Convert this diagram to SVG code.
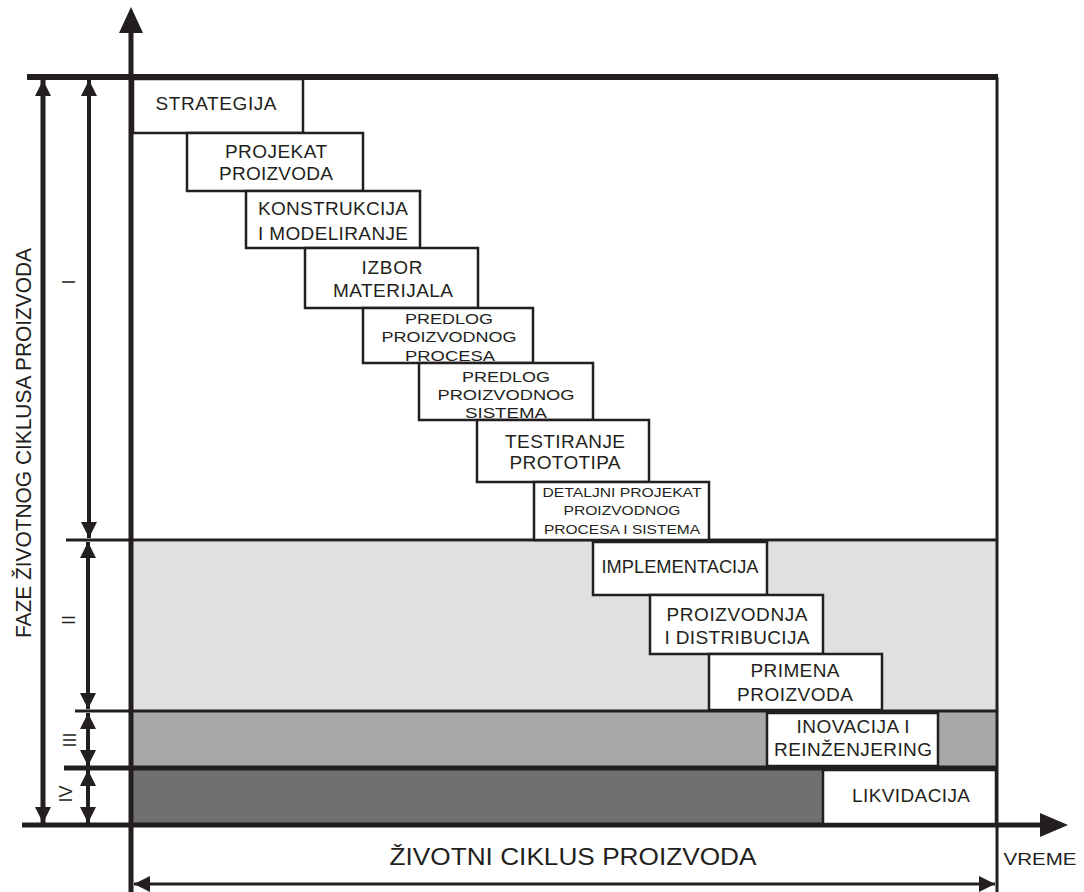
<svg xmlns="http://www.w3.org/2000/svg" width="1084" height="892" viewBox="0 0 1084 892">
<style>
.ln{stroke:#231f20;fill:none}
.bx{fill:#fff;stroke:#231f20;stroke-width:2.5}
.t{font-family:"Liberation Sans",Arial,sans-serif;fill:#231f20;text-anchor:middle}
.f19{font-size:19px}
.f18{font-size:18px}
.f15{font-size:15px}
.f13{font-size:13px}
</style>
<defs>
<marker id="ah" viewBox="0 0 16 16" refX="16" refY="8" markerWidth="16" markerHeight="16" markerUnits="userSpaceOnUse" orient="auto-start-reverse">
<path d="M0,0 L16,8 L0,16 Z" fill="#231f20"/>
</marker>
</defs>
<rect width="1084" height="892" fill="#fff"/>
<g id="bands">
<rect x="133" y="542" width="863" height="168" fill="#e0e0e0"/>
<rect x="133" y="712" width="863" height="55" fill="#a8a8a8"/>
<rect x="133" y="769" width="863" height="55" fill="#707070"/>
</g>
<g id="connectors">
<line class="ln" x1="27" y1="77" x2="998" y2="77" stroke-width="6"/>
<line class="ln" x1="66" y1="540" x2="997" y2="540" stroke-width="3"/>
<line class="ln" x1="75" y1="711" x2="997" y2="711" stroke-width="3"/>
<line class="ln" x1="64" y1="768" x2="997" y2="768" stroke-width="5"/>
<line class="ln" x1="997" y1="77" x2="997" y2="892" stroke-width="3"/>
<line class="ln" x1="22" y1="825" x2="1042" y2="825" stroke-width="5"/>
<polygon points="1068,825 1040,813 1040,837" fill="#231f20"/>
<line class="ln" x1="131" y1="892" x2="131" y2="30" stroke-width="5"/>
<polygon points="131,7 119,33 143,33" fill="#231f20"/>
<line class="ln" x1="43" y1="80" x2="43" y2="823" stroke-width="5" marker-start="url(#ah)" marker-end="url(#ah)"/>
<line class="ln" x1="89" y1="80" x2="89" y2="538" stroke-width="4" marker-start="url(#ah)" marker-end="url(#ah)"/>
<line class="ln" x1="88" y1="542" x2="88" y2="709" stroke-width="4" marker-start="url(#ah)" marker-end="url(#ah)"/>
<line class="ln" x1="88" y1="713" x2="88" y2="766" stroke-width="4" marker-start="url(#ah)" marker-end="url(#ah)"/>
<line class="ln" x1="88" y1="770" x2="88" y2="823" stroke-width="4" marker-start="url(#ah)" marker-end="url(#ah)"/>
<line class="ln" x1="134" y1="884" x2="995" y2="884" stroke-width="3" marker-start="url(#ah)" marker-end="url(#ah)"/>
</g>
<g id="axis-labels">
<text class="t" transform="translate(31,443) rotate(-90)" font-size="22" textLength="390" lengthAdjust="spacingAndGlyphs">FAZE ŽIVOTNOG CIKLUSA PROIZVODA</text>
<text class="t f18" transform="translate(75,282) rotate(-90)">I</text>
<text class="t f18" transform="translate(75,620) rotate(-90)">II</text>
<text class="t f18" transform="translate(76,740) rotate(-90)">III</text>
<text class="t f18" transform="translate(72,794) rotate(-90)">IV</text>
<text class="t" x="573" y="865" font-size="24" textLength="367" lengthAdjust="spacingAndGlyphs">ŽIVOTNI CIKLUS PROIZVODA</text>
<text class="t" x="1040" y="865" font-size="16" textLength="73" lengthAdjust="spacingAndGlyphs">VREME</text>
</g>
<g id="n1"><rect class="bx" x="133" y="79" width="170" height="54"/><text class="t f19" x="216" y="110" textLength="121">STRATEGIJA</text></g>
<g id="n2"><rect class="bx" x="187" y="133" width="176" height="58"/><text class="t f19" x="276" y="158" textLength="102">PROJEKAT</text><text class="t f19" x="276" y="180" textLength="114">PROIZVODA</text></g>
<g id="n3"><rect class="bx" x="246" y="191" width="174" height="57"/><text class="t f19" x="333" y="215" textLength="150">KONSTRUKCIJA</text><text class="t f19" x="333" y="240" textLength="150">I MODELIRANJE</text></g>
<g id="n4"><rect class="bx" x="305" y="248" width="173" height="60"/><text class="t f19" x="392" y="274" textLength="61">IZBOR</text><text class="t f19" x="393" y="297" textLength="120">MATERIJALA</text></g>
<g id="n5"><rect class="bx" x="363" y="308" width="170" height="55"/><text class="t f15" x="449" y="324" textLength="88" lengthAdjust="spacingAndGlyphs">PREDLOG</text><text class="t f15" x="449" y="342" textLength="135" lengthAdjust="spacingAndGlyphs">PROIZVODNOG</text><text class="t f15" x="450" y="361" textLength="90" lengthAdjust="spacingAndGlyphs">PROCESA</text></g>
<g id="n6"><rect class="bx" x="419" y="363" width="174" height="57"/><text class="t f15" x="506" y="382" textLength="88" lengthAdjust="spacingAndGlyphs">PREDLOG</text><text class="t f15" x="506" y="400" textLength="137" lengthAdjust="spacingAndGlyphs">PROIZVODNOG</text><text class="t f15" x="506" y="418" textLength="82" lengthAdjust="spacingAndGlyphs">SISTEMA</text></g>
<g id="n7"><rect class="bx" x="477" y="420" width="172" height="62"/><text class="t f19" x="565" y="448" textLength="120">TESTIRANJE</text><text class="t f19" x="565" y="469" textLength="111">PROTOTIPA</text></g>
<g id="n8"><rect class="bx" x="534" y="482" width="175" height="58"/><text class="t f13" x="622" y="497" textLength="159" lengthAdjust="spacingAndGlyphs">DETALJNI PROJEKAT</text><text class="t f13" x="622" y="515" textLength="117" lengthAdjust="spacingAndGlyphs">PROIZVODNOG</text><text class="t f13" x="622" y="534" textLength="156" lengthAdjust="spacingAndGlyphs">PROCESA I SISTEMA</text></g>
<g id="n9"><rect class="bx" x="593" y="542" width="174" height="53"/><text class="t f18" x="680" y="573" textLength="157" lengthAdjust="spacingAndGlyphs">IMPLEMENTACIJA</text></g>
<g id="n10"><rect class="bx" x="650" y="595" width="173" height="59"/><text class="t f19" x="737" y="621" textLength="141">PROIZVODNJA</text><text class="t f19" x="737" y="644" textLength="145">I DISTRIBUCIJA</text></g>
<g id="n11"><rect class="bx" x="709" y="654" width="173" height="56"/><text class="t f19" x="795" y="677" textLength="89">PRIMENA</text><text class="t f19" x="795" y="701" textLength="116">PROIZVODA</text></g>
<g id="n12"><rect class="bx" x="767" y="713" width="171" height="53"/><text class="t f19" x="853" y="733" textLength="113">INOVACIJA I</text><text class="t f19" x="853" y="756" textLength="158">REINŽENJERING</text></g>
<g id="n13"><rect class="bx" x="823" y="770" width="173" height="54"/><text class="t f19" x="911" y="802" textLength="118">LIKVIDACIJA</text></g>
</svg>
